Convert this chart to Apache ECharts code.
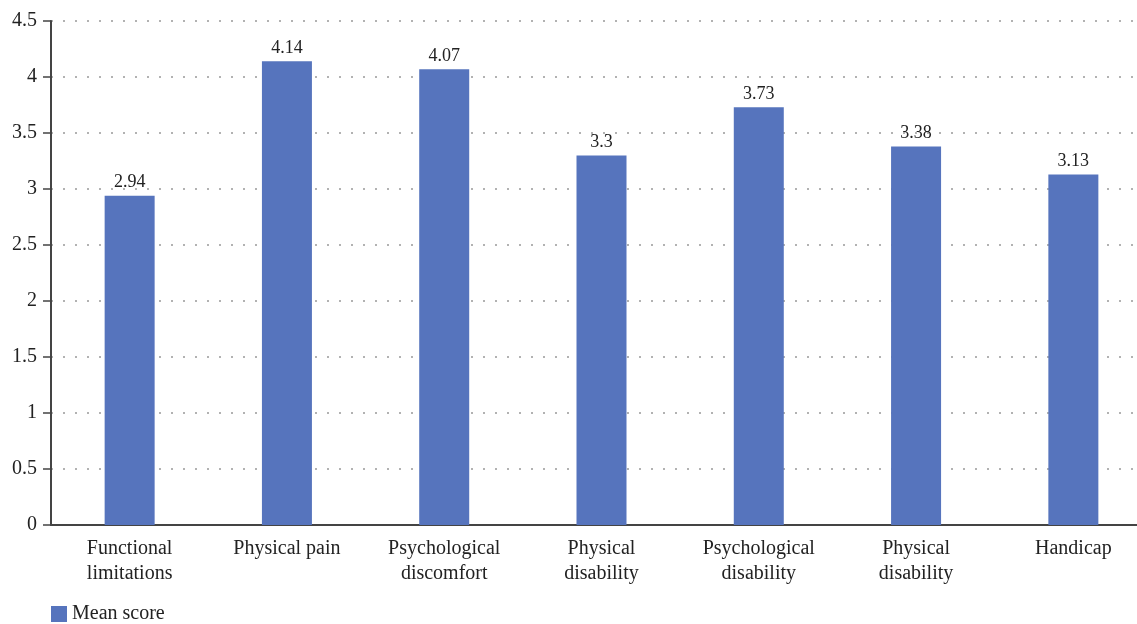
<!DOCTYPE html>
<html><head><meta charset="utf-8">
<script src="https://cdn.jsdelivr.net/npm/echarts@6/dist/echarts.min.js"></script>
<style>html,body{margin:0;padding:0;background:#fff}#c{width:1137px;height:624px}</style>
</head><body><div id="c"></div>
<script>
const categories = ["Functional\nlimitations","Physical pain","Psychological\ndiscomfort","Physical\ndisability","Psychological\ndisability","Physical\ndisability","Handicap"];
const meanScore = [2.94,4.14,4.07,3.3,3.73,3.38,3.13];
const seriesName = "Mean score";
const FONT = "'Liberation Serif', 'DejaVu Serif', serif";
const chart = echarts.init(document.getElementById('c'));
chart.setOption({
  animation:false,
  textStyle:{fontFamily:FONT},
  grid:{left:51,width:1101,top:21,bottom:99,containLabel:false,outerBoundsMode:'none'},
  legend:{left:46,bottom:-5,itemWidth:16,itemHeight:16,itemGap:8,
    textStyle:{fontFamily:FONT,fontSize:20,color:'#222'},data:[seriesName],icon:'rect'},
  xAxis:{type:'category',data:categories,
    axisLine:{lineStyle:{color:'#444',width:2}},axisTick:{show:false},
    axisLabel:{fontFamily:FONT,fontSize:20,color:'#222',lineHeight:25,margin:11,interval:0}},
  yAxis:{type:'value',min:0,max:4.5,interval:0.5,
    axisLine:{show:true,lineStyle:{color:'#444',width:2}},
    axisTick:{show:true,length:8,lineStyle:{color:'#444',width:1.5}},
    axisLabel:{fontFamily:FONT,fontSize:20,color:'#222',margin:14},
    splitLine:{lineStyle:{color:'#999',width:1.5,type:[2,10]}}},
  series:[{name:seriesName,type:'bar',data:meanScore,barWidth:50,
    itemStyle:{color:'#5674bd'},
    label:{show:true,position:'top',fontFamily:FONT,fontSize:18,color:'#222',distance:4}}]
});
</script></body></html>
